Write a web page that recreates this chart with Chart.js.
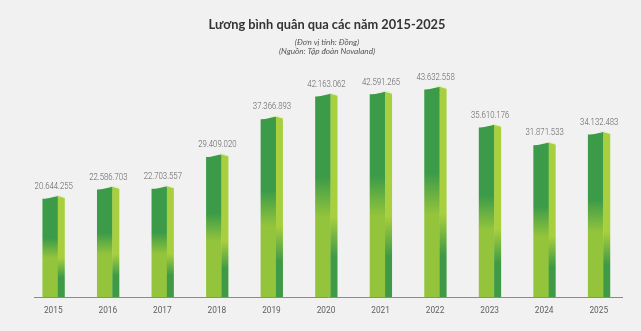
<!DOCTYPE html>
<html>
<head>
<meta charset="utf-8">
<script src="https://cdn.jsdelivr.net/npm/chart.js@4"></script>
<style>
  html, body { margin: 0; padding: 0; background: #f1f1f1; }
  #wrap { width: 641px; height: 331px; position: relative; }
</style>
</head>
<body>
<div id="wrap"><canvas id="c" width="641" height="331"></canvas></div>
<script>
// Average salary per year (VND)
const years = ['2015','2016','2017','2018','2019','2020','2021','2022','2023','2024','2025'];
const salaries = [20644255, 22586703, 22703557, 29409020, 37366893, 42163062, 42591265, 43632558, 35610176, 31871533, 34132483];
const titleText = 'Lương bình quân qua các năm 2015-2025';
const subtitleLines = ['(Đơn vị tính: Đồng)', '(Nguồn: Tập đoàn Novaland)'];

const DARK = '#3b9b48';
const LIGHT = '#93c43c';
const SIDE_LIGHT = '#a8cf3d';
const SIDE_DARK = '#3e9a46';
const SIDE_W = 7;
const SLANT = 3;

function fmt(v) {
  return String(v).replace(/\B(?=(\d{3})+(?!\d))/g, '.');
}

// front face gradient: dark green at the top fading to yellow-green below
function frontFill(ctx) {
  const chart = ctx.chart;
  const yScale = chart.scales.y;
  if (!chart.chartArea || !yScale || ctx.raw == null) return DARK;
  const top = yScale.getPixelForValue(ctx.raw);
  const base = yScale.getPixelForValue(0);
  if (!isFinite(top) || !isFinite(base) || top === base) return DARK;
  const g = chart.ctx.createLinearGradient(0, top, 0, base);
  g.addColorStop(0, DARK);
  g.addColorStop(0.4, DARK);
  g.addColorStop(0.6, LIGHT);
  g.addColorStop(1, LIGHT);
  return g;
}

// condensed text: draw with a horizontal squeeze
function narrowText(ctx, text, x, y, squeeze) {
  ctx.save();
  ctx.translate(x, y);
  ctx.scale(squeeze, 1);
  ctx.fillText(text, 0, 0);
  ctx.restore();
}

const prismPlugin = {
  id: 'prism',
  afterDatasetsDraw(chart) {
    const ctx = chart.ctx;
    const meta = chart.getDatasetMeta(0);
    const area = chart.chartArea;
    meta.data.forEach((bar, i) => {
      const p = bar.getProps(['x', 'y', 'base', 'width'], true);
      const xL = p.x - p.width / 2;
      const xR = p.x + p.width / 2;
      const top = p.y;
      const base = p.base;
      // side face
      const sg = ctx.createLinearGradient(0, top, 0, base);
      sg.addColorStop(0, SIDE_LIGHT);
      sg.addColorStop(0.6, SIDE_LIGHT);
      sg.addColorStop(0.8, SIDE_DARK);
      sg.addColorStop(1, SIDE_DARK);
      ctx.save();
      ctx.fillStyle = sg;
      ctx.beginPath();
      ctx.moveTo(xR, top - SLANT);
      ctx.lineTo(xR + SIDE_W, top - SLANT + 2);
      ctx.lineTo(xR + SIDE_W, base);
      ctx.lineTo(xR, base);
      ctx.closePath();
      ctx.fill();
      // slanted top edge of front face
      ctx.fillStyle = DARK;
      ctx.beginPath();
      ctx.moveTo(xL, top + 0.5);
      ctx.lineTo(xR, top - SLANT);
      ctx.lineTo(xR, top + 0.5);
      ctx.closePath();
      ctx.fill();
      // light rim along the top
      ctx.strokeStyle = 'rgba(220,240,170,0.8)';
      ctx.lineWidth = 1;
      ctx.beginPath();
      ctx.moveTo(xR - 4, top - SLANT + 0.2);
      ctx.lineTo(xR, top - SLANT - 0.5);
      ctx.lineTo(xR + SIDE_W, top - SLANT + 1.5);
      ctx.stroke();
      // value label
      ctx.fillStyle = '#5e5e5e';
      ctx.font = '300 9.5px Roboto, sans-serif';
      ctx.textAlign = 'center';
      ctx.textBaseline = 'middle';
      narrowText(ctx, fmt(salaries[i]), p.x + SIDE_W / 2, top - 12.5, 0.82);
      ctx.restore();
    });
    // baseline
    ctx.save();
    ctx.strokeStyle = '#8a8a8a';
    ctx.lineWidth = 1;
    ctx.beginPath();
    ctx.moveTo(area.left + 11, Math.round(area.bottom) + 0.5);
    ctx.lineTo(area.right, Math.round(area.bottom) + 0.5);
    ctx.stroke();
    ctx.restore();
  },
  afterDraw(chart) {
    const ctx = chart.ctx;
    ctx.save();
    ctx.textAlign = 'center';
    ctx.textBaseline = 'middle';
    ctx.fillStyle = '#333';
    ctx.font = 'bold 12.8px "Lato", sans-serif';
    ctx.fillText(titleText, 327, 25);
    ctx.fillStyle = '#555';
    ctx.font = 'italic 8.2px "Lato", sans-serif';
    ctx.fillText(subtitleLines[0], 327, 42);
    ctx.fillText(subtitleLines[1], 327, 51);
    ctx.restore();
  }
};

new Chart(document.getElementById('c'), {
  type: 'bar',
  data: {
    labels: years,
    datasets: [{
      data: salaries,
      backgroundColor: frontFill,
      borderWidth: 0,
      barThickness: 15
    }]
  },
  options: {
    responsive: false,
    animation: false,
    layout: { padding: { top: 59.5, left: 23, right: 18, bottom: 6 } },
    plugins: {
      legend: { display: false },
      tooltip: { enabled: false },
      title: { display: false }
    },
    scales: {
      x: {
        offset: true,
        grid: { display: false, drawTicks: false },
        border: { display: false },
        ticks: {
          color: '#5e5e5e',
          padding: 9,
          labelOffset: 3,
          font: { family: 'Roboto, sans-serif', size: 8.3 }
        }
      },
      y: {
        display: false,
        min: 0,
        max: 50000000
      }
    }
  },
  plugins: [prismPlugin]
});
</script>
</body>
</html>
